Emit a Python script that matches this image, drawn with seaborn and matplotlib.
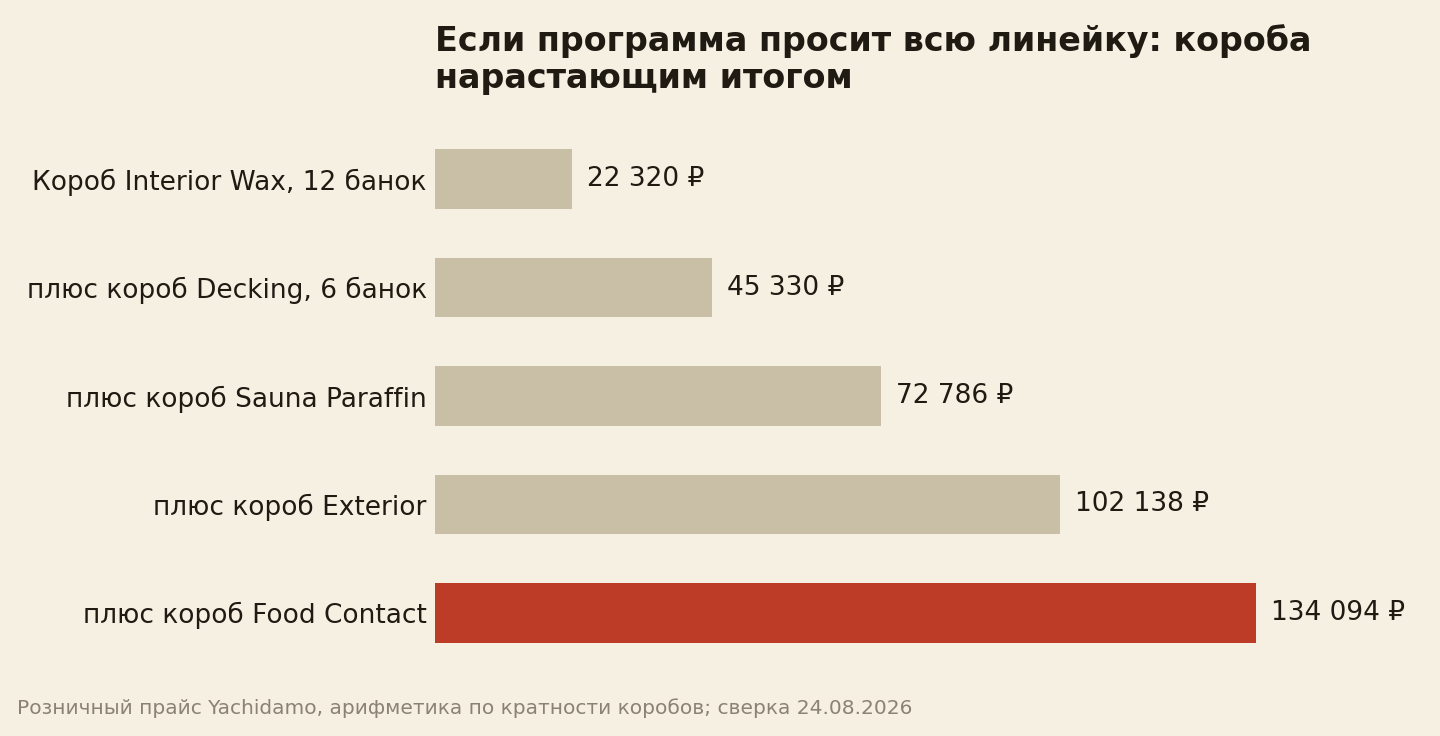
import matplotlib
matplotlib.use("Agg")
import matplotlib.pyplot as plt
import seaborn as sns
import pandas as pd

labels = [
    "Короб Interior Wax, 12 банок",
    "плюс короб Decking, 6 банок",
    "плюс короб Sauna Paraffin",
    "плюс короб Exterior",
    "плюс короб Food Contact",
]
totals = [22320, 45330, 72786, 102138, 134094]
value_texts = ["22 320 ₽", "45 330 ₽", "72 786 ₽", "102 138 ₽", "134 094 ₽"]

BG = "#F6F0E3"
TAN = "#C9BFA6"
RED = "#BC3C27"
INK = "#1F1A12"

sns.set_theme(style="white")
plt.rcParams["font.family"] = ["DejaVu Sans"]

df = pd.DataFrame({"label": labels, "total": totals})
colors = [TAN] * (len(labels) - 1) + [RED]

fig = plt.figure(figsize=(14.4, 7.36), dpi=100, facecolor=BG)
ax = fig.add_axes([435 / 1440, 1 - 667 / 736, 985 / 1440, 542 / 736])
ax.set_facecolor(BG)

sns.barplot(data=df, x="total", y="label", hue="label", palette=colors,
            legend=False, width=0.55, ax=ax, saturation=1, linewidth=0)

ax.set_xlim(0, max(totals) * 1.2)
ax.set_ylim(len(labels) - 0.5, -0.5)

for i, (v, t) in enumerate(zip(totals, value_texts)):
    ax.annotate(t, xy=(v, i), xytext=(15, 0), textcoords="offset pixels",
                va="center", ha="left", fontsize=19, color=INK)

ax.set_xlabel("")
ax.set_ylabel("")
ax.set_xticks([])
ax.tick_params(axis="y", length=0, pad=6, labelsize=19, labelcolor=INK)
sns.despine(ax=ax, left=True, bottom=True)

fig.text(435 / 1440, 1 - 24 / 736,
         "Если программа просит всю линейку: короба\nнарастающим итогом",
         ha="left", va="top", fontsize=24, fontweight="bold", color=INK,
         linespacing=1.15)
fig.text(17 / 1440, 1 - 708 / 736,
         "Розничный прайс Yachidamo, арифметика по кратности коробов; сверка 24.08.2026",
         ha="left", va="center", fontsize=14.5, color="#8A8273")

fig.savefig("out.png", dpi=100, facecolor=BG)
